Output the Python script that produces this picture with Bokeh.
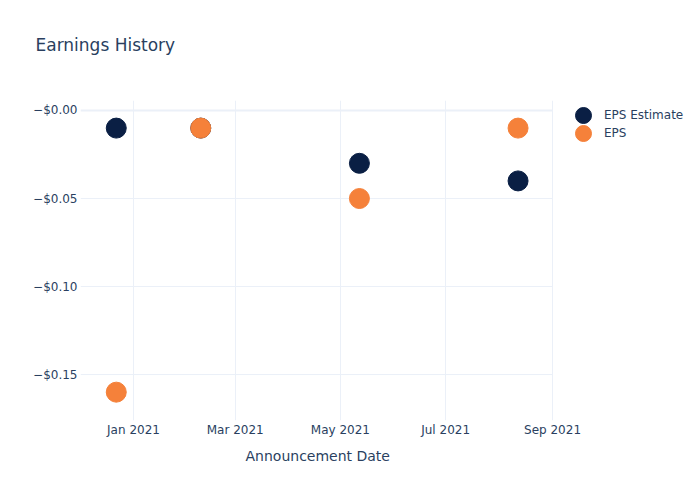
import pandas as pd
from bokeh.plotting import figure
from bokeh.models import Range1d, FixedTicker, DatetimeTickFormatter, Legend, LegendItem, Title
from bokeh.embed import file_html
from bokeh.resources import INLINE

# ---- data ----
dates = ["2020-12-22", "2021-02-09", "2021-05-12", "2021-08-12"]
eps_estimate = [-0.01, -0.01, -0.03, -0.04]
eps_actual = [-0.16, -0.01, -0.05, -0.01]
y_ticks = [0.0, -0.05, -0.10, -0.15]
y_tick_labels = ["\u2212$0.00", "\u2212$0.05", "\u2212$0.10", "\u2212$0.15"]
x_tick_dates = ["2021-01-01", "2021-03-01", "2021-05-01", "2021-07-01", "2021-09-01"]

FONT = "DejaVu Sans"
TXT = "#2a3f5f"
GRID = "#ebf0f8"
NAVY = "#0a1f44"
ORANGE = "#f5813a"

x = pd.to_datetime(dates)
x_start = pd.Timestamp("2021-01-01") - pd.Timedelta(days=30.74)
plot_end = pd.Timestamp(x_tick_dates[-1])
x_end = plot_end + pd.Timedelta(days=85.8)  # blank area to the right holds the legend

p = figure(width=700, height=500, output_backend="svg", toolbar_location=None,
           x_axis_type="datetime", title=None,
           x_range=Range1d(x_start, x_end), y_range=Range1d(-0.1761, 0.00568),
           min_border_left=80, min_border_right=0, min_border_top=100, min_border_bottom=80)
p.outline_line_color = None
p.background_fill_color = "white"

# spacer title (closest to the frame), then the visible title above it
p.add_layout(Title(text=" ", text_font=FONT, text_font_size="17px", standoff=24), "above")
p.add_layout(Title(text="Earnings History", text_font=FONT, text_font_size="17px",
                   text_font_style="normal", text_color=TXT, align="left", offset=-45,
                   standoff=0), "above")

# horizontal grid lines limited to the data area
p.segment(x0=[x_start] * len(y_ticks), x1=[plot_end] * len(y_ticks), y0=y_ticks, y1=y_ticks,
          line_color=GRID, line_width=[2 if t == 0 else 1 for t in y_ticks])

r1 = p.scatter(x, eps_estimate, size=20, color=NAVY, line_color=NAVY)
r2 = p.scatter(x, eps_actual, size=20, color=ORANGE, line_color=ORANGE)

xticks_ms = [pd.Timestamp(d).value / 1e6 for d in x_tick_dates]
p.xaxis.ticker = FixedTicker(ticks=xticks_ms)
p.xaxis.formatter = DatetimeTickFormatter(days="%b %Y", months="%b %Y", years="%b %Y")
p.yaxis.ticker = FixedTicker(ticks=y_ticks)
p.yaxis.major_label_overrides = {t: l for t, l in zip(y_ticks, y_tick_labels)}

for ax in (p.xaxis[0], p.yaxis[0]):
    ax.axis_line_color = None
    ax.major_tick_line_color = None
    ax.minor_tick_line_color = None
    ax.major_tick_out = 0
    ax.major_tick_in = 0
    ax.minor_tick_out = 0
    ax.major_label_text_font = FONT
    ax.major_label_text_font_size = "12px"
    ax.major_label_text_color = TXT
p.xaxis.major_label_standoff = 2
p.yaxis.major_label_standoff = 3

# x-axis title, centred under the data area (not the whole frame)
p.add_layout(Title(text="Announcement Date", text_font=FONT, text_font_size="14px",
                   text_font_style="normal", text_color=TXT, align="left", offset=165,
                   standoff=13), "below")

p.xgrid.grid_line_color = GRID
p.ygrid.grid_line_color = None

common = dict(padding=0, margin=0, glyph_width=40, glyph_height=40, label_height=16,
              label_standoff=1, border_line_color=None, background_fill_alpha=0,
              label_text_font=FONT, label_text_font_size="12px", label_text_color=TXT)
leg1 = Legend(items=[LegendItem(label="EPS Estimate", renderers=[r1])], location=(483, 285), **common)
leg2 = Legend(items=[LegendItem(label="EPS", renderers=[r2])], location=(483, 267), **common)
p.add_layout(leg1, "center")
p.add_layout(leg2, "center")

open("out.html", "w").write(file_html(p, INLINE))
